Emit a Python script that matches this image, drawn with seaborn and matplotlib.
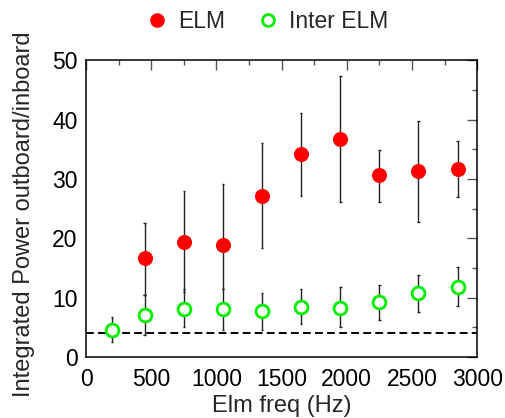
import numpy as np
import pandas as pd
import matplotlib
matplotlib.use("Agg")
import matplotlib.pyplot as plt
from matplotlib.ticker import MultipleLocator
import seaborn as sns

# ELM frequency bins (Hz)
elm_freq = [450, 750, 1050, 1350, 1650, 1950, 2250, 2550, 2850]
elm_ratio = [16.7, 19.3, 18.8, 27.1, 34.2, 36.7, 30.6, 31.3, 31.7]
elm_low = [10.5, 11.0, 11.5, 18.4, 27.2, 26.1, 26.1, 22.8, 27.0]
elm_high = [22.5, 27.9, 29.2, 36.0, 41.1, 47.4, 34.9, 39.7, 36.4]

inter_freq = [200, 450, 750, 1050, 1350, 1650, 1950, 2250, 2550, 2850]
inter_ratio = [4.5, 7.0, 8.0, 8.0, 7.7, 8.5, 8.3, 9.3, 10.7, 11.8]
inter_low = [2.5, 3.7, 5.0, 4.5, 4.6, 5.6, 5.0, 6.3, 7.6, 8.6]
inter_high = [6.7, 10.4, 11.5, 11.5, 10.7, 11.5, 11.8, 12.1, 13.8, 15.1]

baseline = 4.0

sns.set_theme(style="white")
plt.rcParams["font.family"] = ["Liberation Sans", "DejaVu Sans"]

elm = pd.DataFrame({"freq": elm_freq, "ratio": elm_ratio,
                    "low": elm_low, "high": elm_high, "kind": "ELM"})
inter = pd.DataFrame({"freq": inter_freq, "ratio": inter_ratio,
                      "low": inter_low, "high": inter_high, "kind": "Inter ELM"})

fig = plt.figure(figsize=(5.06, 4.18), dpi=100)
ax = fig.add_axes([0.170, 0.146, 0.773, 0.710])

# error bars
for df in (elm, inter):
    ax.vlines(df["freq"], df["low"], df["high"], color="#222222", lw=1.0, zorder=1)
    ax.hlines(df["low"], df["freq"] - 10, df["freq"] + 10, color="#222222", lw=1.0, zorder=1)
    ax.hlines(df["high"], df["freq"] - 10, df["freq"] + 10, color="#222222", lw=1.0, zorder=1)

ax.axhline(baseline, color="black", lw=1.4, ls=(0, (4, 2.2)), zorder=2)

sns.scatterplot(data=elm, x="freq", y="ratio", ax=ax, marker="o", s=100,
                color="#ff0000", edgecolor="#ff0000", linewidth=0.8, zorder=3,
                label="ELM", legend=False)
sns.scatterplot(data=inter, x="freq", y="ratio", ax=ax, marker="o", s=85,
                facecolor="white", edgecolor="#00ee00", linewidth=2.0, zorder=3,
                label="Inter ELM", legend=False)

ax.set_xlim(0, 3000)
ax.set_ylim(0, 50)
ax.xaxis.set_major_locator(MultipleLocator(500))
ax.xaxis.set_minor_locator(MultipleLocator(250))
ax.yaxis.set_major_locator(MultipleLocator(10))
ax.yaxis.set_minor_locator(MultipleLocator(5))
ax.tick_params(which="both", direction="in", top=True, right=True,
               color="#555555", labelsize=16.5, labelcolor="black")
ax.tick_params(which="major", length=7, width=1.0)
ax.tick_params(which="minor", length=3.5, width=1.0)
ax.tick_params(axis="y", pad=6)
ax.tick_params(axis="x", pad=8)
for sp in ax.spines.values():
    sp.set_color("black")
    sp.set_linewidth(1.1)

ax.set_xlabel("Elm freq (Hz)", fontsize=17, va="center")
ax.set_ylabel("Integrated Power outboard/inboard", fontsize=17, va="center")
ax.xaxis.set_label_coords(0.5, -0.165)
ax.yaxis.set_label_coords(-0.158, 0.48)

handles = [
    plt.Line2D([], [], ls="none", marker="o", ms=9.5, color="#ff0000"),
    plt.Line2D([], [], ls="none", marker="o", ms=8.5, mfc="white",
               mec="#00ee00", mew=2.0),
]
fig.legend(handles, ["ELM", "Inter ELM"], loc="center", ncol=2,
           bbox_to_anchor=(0.525, 0.948), frameon=False, fontsize=16.5,
           handletextpad=0.3, columnspacing=1.3, handlelength=1.2)

fig.savefig("out.png", dpi=100)
